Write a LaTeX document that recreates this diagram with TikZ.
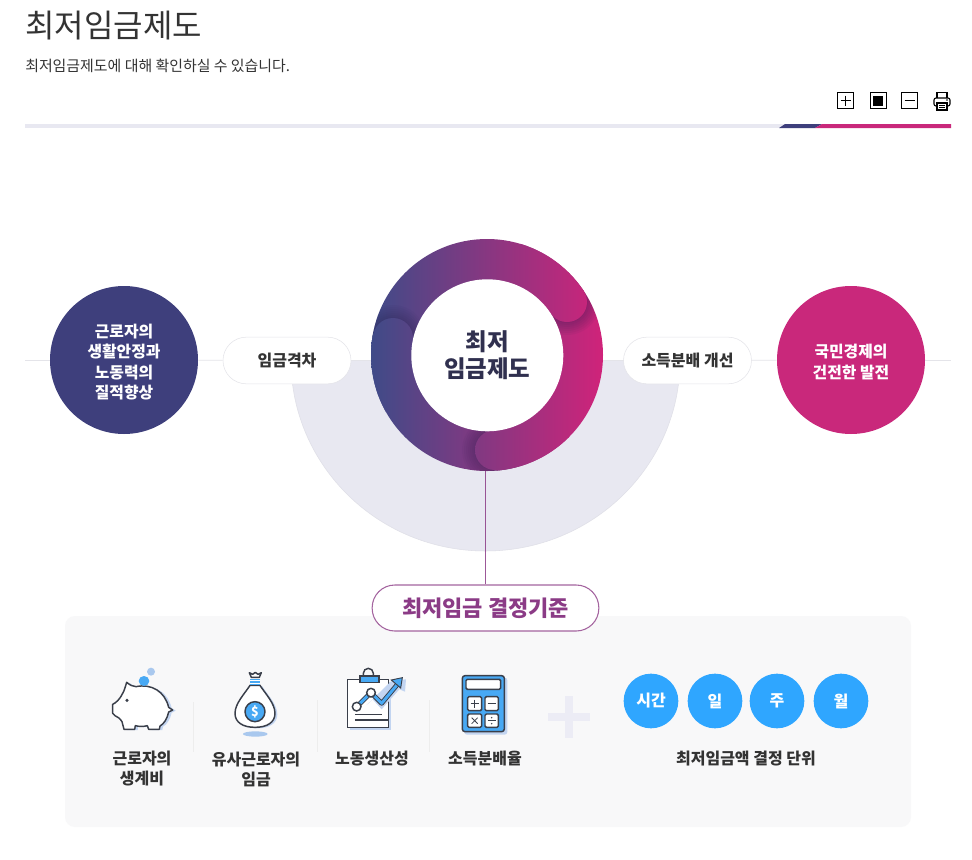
\documentclass[tikz,border=0pt]{standalone}
\usepackage{fontspec}
\setmainfont{Noto Sans CJK KR}
\usetikzlibrary{calc}
\definecolor{navy}{HTML}{3E3F7C}
\definecolor{ringL}{HTML}{3F4B88}
\definecolor{ringR}{HTML}{D0237A}
\definecolor{pinkc}{HTML}{C9287B}
\definecolor{lav}{HTML}{E8E8F1}
\definecolor{lavl}{HTML}{ECECF5}
\definecolor{rulec}{HTML}{E4E4E9}
\definecolor{inkc}{HTML}{333333}
\definecolor{centerink}{HTML}{30304F}
\definecolor{purp}{HTML}{8B3B86}
\definecolor{purpl}{HTML}{A4649F}
\definecolor{sky}{HTML}{2FA6FF}
\definecolor{iblue}{HTML}{48A9F4}
\definecolor{ishadow}{HTML}{C3D5F1}
\definecolor{icoin}{HTML}{A9C8EE}
\definecolor{iline}{HTML}{3A3F4A}
\definecolor{boxc}{HTML}{F8F8F9}
\definecolor{capdark}{HTML}{2A2050}
\tikzset{
  x=0.75pt,y=-0.75pt,
  pillbox/.style={draw=rulec,fill=white,rounded corners=17.5pt,minimum width=96pt,minimum height=35pt,inner sep=0pt,text=inkc,font=\fontsize{12}{15}\selectfont\bfseries},
  bigdisc/.style={circle,minimum size=111pt,inner sep=0pt,text=white,align=center,font=\fontsize{11.9}{15.2}\selectfont\bfseries},
  unitdisc/.style={circle,fill=sky,minimum size=41pt,inner sep=0pt,text=white,font=\fontsize{12}{14}\selectfont\bfseries},
  caption/.style={text=inkc,align=center,inner sep=0pt,font=\fontsize{12}{15}\selectfont\bfseries},
  sepline/.style={draw=black!7,line width=.6pt},
  ictl/.style={draw=black,line width=.7pt,fill=white},
  ico/.style={draw=iline,line width=1.1pt},
}
\newcommand{\dnb}{\rule{0pt}{13pt}}
\newcommand{\ringgrad}{\shade[left color=ringL,right color=ringR,shading angle=90,shading=axis] (371,239) rectangle (603,471);}
\newcommand{\capshadow}[1]{\foreach \r in {21,23,...,33}{\fill[capdark,opacity=.055] (#1) circle[radius=\r];}}
\newcommand{\pigpath}{(140,97) .. controls (150,105) and (158,110) .. (168,110) .. controls (215,100) and (255,125) .. (266,172) -- (278,180) -- (266,186) .. controls (262,205) and (252,222) .. (240,228) -- (238,238) -- (206,238) -- (202,227) .. controls (190,230) and (178,230) .. (166,227) -- (164,238) -- (132,238) -- (126,215) .. controls (120,205) and (112,200) .. (105,197) -- (98,190) -- (98,163) .. controls (108,158) and (118,150) .. (128,130) .. controls (133,122) and (136,110) .. (140,97) -- cycle}
\newcommand{\bagpath}{(510,106) .. controls (495,130) and (465,160) .. (465,190) .. controls (465,218) and (490,232) .. (525,232) .. controls (560,232) and (585,218) .. (585,190) .. controls (585,160) and (555,130) .. (540,106) -- cycle}
\begin{document}
\begin{tikzpicture}
\useasboundingbox (0,0) rectangle (972,860);
\fill[white] (0,0) rectangle (972,860);
% header
\node[anchor=base west,inner sep=0pt,text=inkc,font=\fontsize{24}{28}\selectfont] (title) at (25,37.5) {최저임금제도};
\node[anchor=base west,inner sep=0pt,text=inkc,font=\fontsize{11.2}{14}\selectfont] (subtitle) at (25,71) {최저임금제도에 대해 확인하실 수 있습니다.};
% tool icons
\draw[ictl] (837.5,92.5) rectangle (853.5,108.5);
\draw[black,line width=.6pt] (840.5,100.5) -- (850.5,100.5) (845.5,95.5) -- (845.5,105.5);
\draw[ictl] (870,92.5) rectangle (886,108.5);
\fill[black] (873,95.5) rectangle (883,105.5);
\draw[ictl] (901.5,92.5) rectangle (917.5,108.5);
\draw[black,line width=.6pt] (904.5,100.5) -- (914.5,100.5);
\draw[black,line width=.8pt,fill=white] (937,92.5) rectangle (947,99);
\draw[black,line width=.8pt,rounded corners=1.5pt,fill=white] (934,98) rectangle (950,106);
\draw[black,line width=.8pt,fill=white] (937,103) rectangle (947,110);
\draw[black,line width=.5pt] (939,105.5) -- (945,105.5) (939,107.7) -- (945,107.7);
\fill[black] (947,100) circle[radius=.9];
% top bar
\fill[lav] (25,124) rectangle (951,128);
\fill[navy] (779,128) -- (785,124) -- (822,124) -- (815,128) -- cycle;
\fill[pinkc] (815,128) -- (822,124) -- (951,124) -- (951,128) -- cycle;
% half disc
\fill[lav,draw=black!4!lav] (291,360) arc[start angle=180,end angle=360,x radius=194.5,y radius=-191];
% main nodes
\coordinate (lineL) at (25,360);
\coordinate (lineR) at (951,360);
\node[bigdisc,fill=navy] (goalL) at (124,360) {\dnb 근로자의\\생활안정과\\노동력의\\질적향상};
\node[bigdisc,fill=pinkc] (goalR) at (851,360) {\dnb 국민경제의\\건전한 발전};
\node[pillbox] (gap) at (287,360.5) {임금격차};
\node[pillbox] (dist) at (687.5,360.5) {소득분배 개선};
\node[circle,minimum size=174pt,inner sep=0pt] (ringouter) at (487,355) {};
% grey panel
\fill[boxc,rounded corners=7.5pt] (65,616) rectangle (911,827);
\node[draw=purpl,line width=.8pt,fill=white,rounded corners=17pt,minimum width=170pt,minimum height=34.5pt,inner sep=0pt,text=purp,font=\fontsize{16.5}{18}\selectfont\bfseries] (crit) at (485.5,608) {최저임금 결정기준};
% connectors
\draw[rulec,line width=.6pt] (lineL) -- (goalL);
\draw[rulec,line width=.6pt] (goalL) -- (gap);
\draw[rulec,line width=.6pt] (gap) -- (gap -| ringouter.west);
\draw[rulec,line width=.6pt] (dist) -- (dist -| ringouter.east);
\draw[rulec,line width=.6pt] (dist) -- (goalR);
\draw[rulec,line width=.6pt] (goalR) -- (lineR);
\draw[draw=purp,line width=1.2pt,opacity=.85] (crit.north) -- (crit.north |- ringouter.south);
% ring
\begin{scope}
\clip (ringouter.center) circle[radius=116];
\ringgrad
\capshadow{567,302}
\begin{scope}\clip (487,355) -- (604,278) -- (527,221) -- cycle; \ringgrad \end{scope}
\begin{scope}\clip (567,302) circle[radius=20]; \ringgrad \end{scope}
\capshadow{495,450}
\begin{scope}\clip (487,355) -- (499,494) -- (586,454) -- cycle; \ringgrad \end{scope}
\begin{scope}\clip (495,450) circle[radius=20]; \ringgrad \end{scope}
\capshadow{393,338}
\begin{scope}\clip (487,355) -- (349,330) -- (365,424) -- cycle; \ringgrad \end{scope}
\begin{scope}\clip (393,338) circle[radius=20]; \ringgrad \end{scope}
\end{scope}
\node[circle,fill=white,minimum size=114pt,inner sep=0pt,text=centerink,align=center,font=\fontsize{17.6}{20.5}\selectfont\bfseries] (ring) at (487.3,355.3) {최저\\임금제도};
% separators
\draw[sepline] (193,702) -- (193,752);
\draw[sepline] (317,700) -- (317,752);
\draw[sepline] (429,700) -- (429,752);
% plus
\fill[lavl] (548,713) rectangle (590,721);
\fill[lavl] (565,696) rectangle (573,738);
% unit discs
\node[unitdisc] (u1) at (651,701) {시간};
\node[unitdisc] (u2) at (715,701) {일};
\node[unitdisc] (u3) at (777,701) {주};
\node[unitdisc] (u4) at (841,701) {월};
% captions
\node[caption] (c1) at (142,769) {근로자의\\생계비};
\node[caption] (c2) at (256,769) {유사근로자의\\임금};
\node[caption,anchor=center] (c3) at (372,759) {노동생산성};
\node[caption,anchor=center] (c4) at (485,759) {소득분배율};
\node[caption,anchor=center] (c5) at (746,759) {최저임금액 결정 단위};
% icons
\begin{scope}[shift={(80,650)},scale=1/3]
% pig
\fill[ishadow,shift={(9,2)}] \pigpath;
\draw[ico,fill=white,line join=round] \pigpath;
\fill[iline] (141,151) circle[radius=5];
\fill[iblue] (192,93) ellipse[x radius=16,y radius=15];
\fill[icoin] (213,65) circle[radius=12];
% bag
\fill[ishadow,shift={(7,3)}] \bagpath;
\draw[ico,fill=white] \bagpath;
\draw[ico,fill=white,line join=round] (508,68) -- (518,73) -- (526,67) -- (534,73) -- (544,68) -- (538,82) -- (514,82) -- cycle;
\fill[iblue] (511,86) rectangle (539,106);
\draw[white,line width=.6pt] (511,92) -- (539,92) (511,99) -- (539,99);
\draw[ico,fill=iblue] (525,185) circle[radius=30];
\node[text=white,inner sep=0pt,font=\fontsize{9.5}{9.5}\selectfont\bfseries] (dollar) at (525,185) {\$};
\fill[icoin] (526,252) ellipse[x radius=37,y radius=8];
% clipboard
\fill[ishadow] (811,96) rectangle (934,241);
\draw[ico,fill=white] (803,88) rectangle (925,233);
\draw[ico] (850,78) -- (850,70) arc[start angle=180,end angle=360,radius=15] -- (880,78);
\draw[ico,fill=iblue] (840,78) rectangle (897,98);
\fill[ishadow] (935,92) -- (978,88) -- (975,125) -- (958,118) -- (905,178) -- (878,148) -- (860,165) -- cycle;
\draw[iline,line width=3.6pt,line join=round] (830,170) -- (873,128) -- (905,160) -- (955,100);
\draw[iblue,line width=2.2pt,line join=round] (830,170) -- (873,128) -- (905,160) -- (955,100);
\fill[iblue,draw=iline,line width=.7pt] (967,83) -- (934,90) -- (962,114) -- cycle;
\draw[ico,fill=white] (830,170) circle[radius=13];
\draw[ico,fill=white] (873,128) circle[radius=13];
\draw[ico] (825,194) -- (905,194) (825,210) -- (925,210);
% calculator
\fill[ishadow,rounded corners=2pt] (1153,83) rectangle (1282,254);
\draw[ico,fill=iblue,rounded corners=2pt] (1147,77) rectangle (1273,245);
\draw[ico,fill=white,rounded corners=1pt] (1158,88) rectangle (1262,118);
\draw[ico,fill=white,rounded corners=1pt] (1163,140) rectangle (1205,182);
\draw[ico,fill=white,rounded corners=1pt] (1215,140) rectangle (1255,182);
\draw[ico,fill=white,rounded corners=1pt] (1163,192) rectangle (1205,232);
\draw[ico,fill=white,rounded corners=1pt] (1215,192) rectangle (1255,232);
\draw[iline,line width=.6pt] (1172,161) -- (1196,161) (1184,149) -- (1184,173);
\draw[iline,line width=.6pt] (1223,161) -- (1247,161);
\draw[iline,line width=.6pt] (1175,203) -- (1193,221) (1175,221) -- (1193,203);
\draw[iline,line width=.6pt] (1223,212) -- (1247,212);
\fill[iline] (1235,203) circle[radius=2.4] (1235,221) circle[radius=2.4];
\end{scope}
\end{tikzpicture}
\end{document}
